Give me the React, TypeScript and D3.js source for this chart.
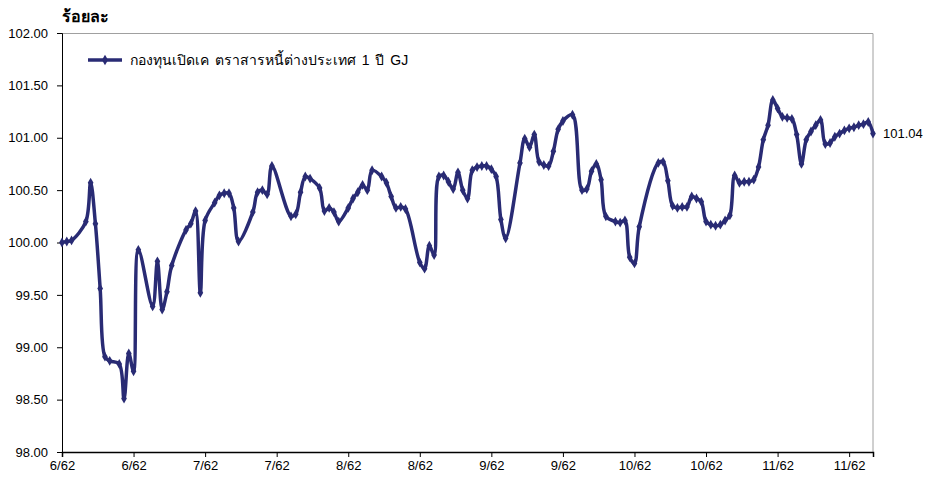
import React, {useEffect, useRef} from 'react';
import * as d3 from 'd3';

// day offset from the first tick, and NAV per unit (%)
const days = [
  0, 1, 2, 5, 6, 7, 8, 9, 10, 12, 13, 14, 15, 16, 19, 20, 21, 22, 23, 26,
  27, 28, 29, 30, 32, 33, 34, 35, 36, 37, 40, 41, 42, 43, 44, 48, 49, 50, 51, 52,
  54, 55, 56, 57, 58, 60, 61, 62, 63, 64, 65, 67, 68, 69, 70, 71, 72, 75, 76, 77,
  78, 79, 80, 81, 82, 83, 84, 85, 86, 87, 88, 89, 90, 91, 92, 93, 96, 97, 98, 99,
  100, 101, 102, 103, 104, 105, 107, 109, 110, 111, 112, 113, 114, 116, 117, 118, 119, 120, 121, 125,
  126, 127, 128, 129, 130, 131, 132, 133, 134, 135, 136, 137, 138, 139, 140, 141, 142, 143, 144, 145,
  146, 147, 148, 149, 150, 151, 152, 153, 154, 155, 156, 157, 158, 159, 160, 161, 162, 163, 164, 165,
  166, 167, 168, 169, 170
];

const navValues = [
  100.00, 100.01, 100.02, 100.20, 100.57, 100.18, 99.56, 98.91, 98.87, 98.84, 98.51, 98.94, 98.77, 99.93, 99.39, 99.82, 99.36, 99.53, 99.78, 100.12,
  100.18, 100.30, 99.52, 100.21, 100.38, 100.45, 100.47, 100.47, 100.33, 100.01, 100.29, 100.48, 100.50, 100.46, 100.73, 100.25, 100.27, 100.48, 100.63, 100.61,
  100.52, 100.30, 100.33, 100.29, 100.20, 100.33, 100.42, 100.48, 100.55, 100.50, 100.69, 100.63, 100.57, 100.44, 100.33, 100.34, 100.32, 99.81, 99.75, 99.97,
  99.88, 100.63, 100.64, 100.58, 100.51, 100.67, 100.50, 100.42, 100.69, 100.72, 100.73, 100.73, 100.70, 100.63, 100.22, 100.04, 100.76, 100.99, 100.91, 101.03,
  100.77, 100.74, 100.73, 100.87, 101.08, 101.16, 101.22, 100.50, 100.51, 100.68, 100.75, 100.60, 100.25, 100.20, 100.19, 100.21, 99.86, 99.80, 100.15, 100.76,
  100.77, 100.59, 100.35, 100.33, 100.34, 100.34, 100.44, 100.42, 100.39, 100.20, 100.17, 100.16, 100.17, 100.21, 100.26, 100.64, 100.57, 100.58, 100.58, 100.60,
  100.72, 100.98, 101.12, 101.36, 101.28, 101.20, 101.19, 101.18, 101.03, 100.75, 100.98, 101.06, 101.12, 101.17, 100.94, 100.95, 101.01, 101.04, 101.07, 101.09,
  101.10, 101.12, 101.13, 101.15, 101.04
];

const tickLabels = ['6/62', '6/62', '7/62', '7/62', '8/62', '8/62', '9/62', '9/62', '10/62', '10/62', '11/62', '11/62'];
const tickStep = 15; // days between x ticks
const yTicks = [98, 98.5, 99, 99.5, 100, 100.5, 101, 101.5, 102];

const seriesName = 'กองทุนเปิดเค ตราสารหนี้ต่างประเทศ 1 ปี GJ';
const yTitle = 'ร้อยละ';

const W = 932, H = 477;
const margin = {top: 33, right: 59, bottom: 25, left: 62};
const lineColor = '#292b74';
const font = 'Arial, "Liberation Sans", sans-serif';

const App = () => {
  const ref = useRef<SVGSVGElement>(null);

  useEffect(() => {
    const svg = d3.select(ref.current);
    svg.selectAll('*').remove();

    const width = W - margin.left - margin.right;
    const height = H - margin.top - margin.bottom;

    const x = d3.scaleLinear().domain([0, d3.max(days)]).range([0, width]);
    const y = d3.scaleLinear().domain([98, 102]).range([height, 0]);

    const g = svg.append('g').attr('transform', `translate(${margin.left}, ${margin.top})`);

    // plot frame: grey top / right
    g.append('path')
      .attr('d', `M0,0.5H${width}V${height}`)
      .attr('fill', 'none')
      .attr('stroke', '#a0a0a0')
      .attr('stroke-width', 1);

    // y axis
    const yAxis = d3.axisLeft(y)
      .tickValues(yTicks)
      .tickSize(5)
      .tickFormat(d3.format('.2f'));
    const ya = g.append('g').call(yAxis);
    ya.select('.domain').attr('stroke', '#000');
    ya.selectAll('text')
      .attr('x', -14)
      .style('font-family', font)
      .style('font-size', '13px')
      .attr('fill', '#000');

    // x axis
    const xTickVals = tickLabels.map((_, i) => i * tickStep);
    const xAxis = d3.axisBottom(x)
      .tickValues(xTickVals)
      .tickSize(5)
      .tickFormat((_, i) => tickLabels[i]);
    const xa = g.append('g').attr('transform', `translate(0, ${height})`).call(xAxis);
    xa.select('.domain').attr('stroke', '#000').attr('stroke-width', 1.5);
    xa.selectAll('text')
      .attr('y', 9)
      .style('font-family', font)
      .style('font-size', '13px')
      .attr('fill', '#000');

    const data = days.map((d, i) => ({day: d, v: navValues[i]}));

    const line = d3.line<{day: number, v: number}>()
      .x(d => x(d.day))
      .y(d => y(d.v))
      .curve(d3.curveCatmullRom.alpha(0.5));

    g.append('path')
      .datum(data)
      .attr('d', line)
      .attr('fill', 'none')
      .attr('stroke', lineColor)
      .attr('stroke-width', 3.5)
      .attr('stroke-linejoin', 'round');

    const diamond = d3.symbol().type(d3.symbolDiamond).size(28);
    g.selectAll('path.pt')
      .data(data)
      .enter().append('path')
      .attr('class', 'pt')
      .attr('d', diamond)
      .attr('transform', d => `translate(${x(d.day)}, ${y(d.v)})`)
      .attr('fill', lineColor);

    // last value label
    const last = data[data.length - 1];
    g.append('text')
      .attr('x', width + 10)
      .attr('y', y(last.v))
      .attr('dy', '0.35em')
      .style('font-family', font)
      .style('font-size', '13px')
      .text(last.v.toFixed(2));

    // legend
    const lg = svg.append('g').attr('transform', 'translate(88, 60)');
    lg.append('line')
      .attr('x1', 0).attr('x2', 34)
      .attr('stroke', lineColor)
      .attr('stroke-width', 3.5);
    lg.append('path')
      .attr('d', d3.symbol().type(d3.symbolDiamond).size(32))
      .attr('transform', 'translate(17, 0)')
      .attr('fill', lineColor);
    lg.append('text')
      .attr('x', 42)
      .attr('dy', '0.35em')
      .style('font-family', font)
      .style('font-size', '14px')
      .style('word-spacing', '2px')
      .text(seriesName);

    // y title
    svg.append('text')
      .attr('x', 62)
      .attr('y', 22)
      .style('font-family', font)
      .style('font-size', '16px')
      .style('font-weight', 'bold')
      .text(yTitle);
  }, []);

  return (
    <svg ref={ref} width={W} height={H} style={{position: 'absolute', left: 0, top: 0, background: '#fff'}} />
  );
};

export default App;
